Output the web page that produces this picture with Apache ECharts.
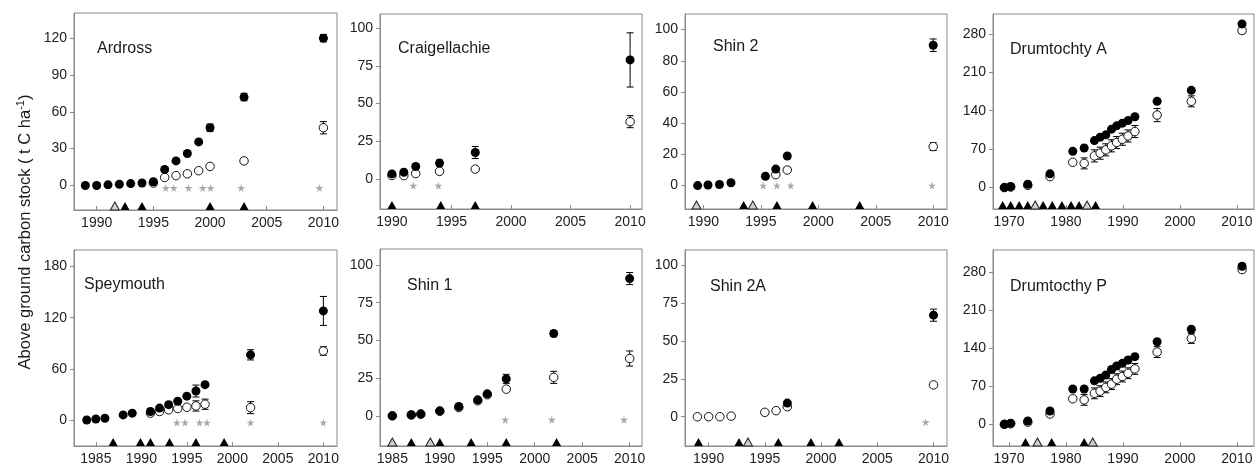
<!DOCTYPE html>
<html><head><meta charset="utf-8">
<script src="https://cdn.jsdelivr.net/npm/echarts@6/dist/echarts.min.js"></script>
<style>html,body{margin:0;padding:0;background:#fff}#c{width:1258px;height:467px}</style>
</head><body><div id="c"></div>
<script>
// ---------- tick labels ----------
const ticksX1990 = [1990, 1995, 2000, 2005, 2010];
const ticksX1985 = [1985, 1990, 1995, 2000, 2005, 2010];
const ticksX1970 = [1970, 1980, 1990, 2000, 2010];
const ticksY30 = [0, 30, 60, 90, 120];
const ticksY25 = [0, 25, 50, 75, 100];
const ticksY20 = [0, 20, 40, 60, 80, 100];
const ticksY70 = [0, 70, 140, 210, 280];
const ticksY60 = [0, 60, 120, 180];
const yAxisTitle = 'Above ground carbon stock ( t C ha';
const yAxisTitleSup = '-1';

// ---------- data: [year, value, error] ----------
const ardrossFilled = [[1989,0],[1990,0],[1991,0.5],[1992,1],[1993,1.5],[1994,2],[1995,3],[1996,13],[1997,20],[1998,26],[1999,35.5],[2000,47,3],[2003,72,3],[2010,120,3]];
const ardrossOpen = [[1995,2],[1996,6.5],[1997,8],[1998,9.5],[1999,12],[2000,15.5],[2003,20,2],[2010,47,5]];
const ardrossStars = [[1996.1,-2],[1996.8,-2],[1998.1,-2],[1999.35,-2],[2000.05,-2],[2002.75,-2],[2009.65,-2]];
const ardrossTriFilled = [1992.5, 1994, 2000, 2003];
const ardrossTriOpen = [1991.6];

const craigFilled = [[1990,3.3],[1991,4.4],[1992,8.2],[1994,10.5,2],[1997,17.5,4],[2010,79,18]];
const craigOpen = [[1990,2.2],[1991,2.2],[1992,3.5],[1994,5],[1997,6.5],[2010,38,4]];
const craigStars = [[1991.8,-4.5],[1993.9,-4.5]];
const craigTriFilled = [1990, 1994.1, 1997];
const craigTriOpen = [];

const shin2Filled = [[1989.5,0],[1990.4,0.4],[1991.4,0.7],[1992.4,1.8],[1995.4,6],[1996.3,10.6],[1997.3,19],[2010,90,4]];
const shin2Open = [[1996.3,7],[1997.3,10],[2010,25,2.5]];
const shin2Stars = [[1995.2,0],[1996.4,0],[1997.6,0],[2009.9,0]];
const shin2TriFilled = [1993.5, 1996.4, 1999.5, 2003.6];
const shin2TriOpen = [1989.4, 1994.3];

const drumAFilled = [[1969.2,0],[1970.3,2],[1973.3,6],[1977.2,25,3],[1981.2,66],[1983.2,72],[1985,85.6],[1986,91.8],[1987,96],[1988,106.4],[1988.9,112.4],[1989.9,117.3],[1990.9,122],[1992.1,129],[1996,157,3],[2002,177,3],[2010.9,298]];
const drumAOpen = [[1969.2,0],[1970.3,1],[1973.3,4],[1977.2,20,2],[1981.2,46,3],[1983.2,44,10],[1985,57.7,11],[1986,62.6,11],[1987,68.7,11],[1988,76,11],[1988.9,82,11],[1989.9,88,11],[1990.9,94,11],[1992.1,102,11],[1996,132,12],[2002,157,10],[2010.9,286,5]];
const drumAStars = [];
const drumATriFilled = [1968.9, 1970.3, 1971.8, 1973.3, 1976.0, 1977.6, 1979.3, 1980.9, 1982.3, 1985.2];
const drumATriOpen = [1974.6, 1983.7];

const speyFilled = [[1984,0],[1985,1.2],[1986,2],[1988,6],[1989,8],[1991,10],[1992,14],[1993,18],[1994,22],[1995,28],[1996,34,7],[1997,41.5],[2002,76.5,6],[2010,128,17]];
const speyOpen = [[1991,8],[1992,10],[1993,12],[1994,13.5],[1995,15],[1996,16.5,6],[1997,18.5,6],[2002,14.5,7],[2010,81,5]];
const speyStars = [[1993.9,-3],[1994.8,-3],[1996.4,-3],[1997.2,-3],[2002,-3],[2010,-3]];
const speyTriFilled = [1986.9, 1989.9, 1991, 1993.1, 1996, 1999.1];
const speyTriOpen = [];

const shin1Filled = [[1985,0],[1987,0.7],[1988,1.3],[1990,3.3],[1992,6.2],[1994,10.6],[1995,14.6],[1997,24.5,3],[2002,54.5,2],[2010,91,4]];
const shin1Open = [[1985,0],[1987,0.5],[1988,1],[1990,3],[1992,5.5],[1994,10],[1995,14],[1997,17.7],[2002,25.5,4],[2010,38,5]];
const shin1Stars = [[1996.9,-2.6],[2001.8,-2.6],[2009.4,-2.6]];
const shin1TriFilled = [1987, 1990, 1993.3, 1997, 2002.3];
const shin1TriOpen = [1985, 1989];

const shin2AFilled = [[1997,9],[2010,67,4]];
const shin2AOpen = [[1989,0],[1990,0],[1991,0],[1992,0.4],[1995,2.9],[1996,4],[1997,6.6],[2010,21]];
const shin2AStars = [[2009.3,-3.6]];
const shin2ATriFilled = [1989.1, 1992.7, 1996.2, 1999.1, 2001.6];
const shin2ATriOpen = [1993.5];

const drumPFilled = [[1969.2,0],[1970.3,2],[1973.3,6],[1977.2,24.5],[1981.2,65],[1983.2,65],[1985,80],[1986,84.6],[1987,90.8],[1988,101],[1988.9,107.4],[1989.9,112.3],[1990.9,118.4],[1992.1,124.5],[1996,152],[2002,175],[2010.9,291,5]];
const drumPOpen = [[1969.2,0],[1970.3,1],[1973.3,4],[1977.2,19,2],[1981.2,47,3],[1983.2,45,10],[1985,57,10],[1986,61,10],[1987,68,10],[1988,74,10],[1988.9,83,10],[1989.9,88,10],[1990.9,94,10],[1992.1,102,10],[1996,133,10],[2002,158,9],[2010.9,285,4]];
const drumPStars = [];
const drumPTriFilled = [1972.9, 1977.5, 1983.2];
const drumPTriOpen = [1975, 1984.7];

const panelNames = ['Ardross','Craigellachie','Shin 2','Drumtochty A','Speymouth','Shin 1','Shin 2A','Drumtocthy P'];

// ---------- panel assembly ----------
const panels = [
  {filled: ardrossFilled, open: ardrossOpen, stars: ardrossStars, triF: ardrossTriFilled, triO: ardrossTriOpen, xt: ticksX1990, yt: ticksY30},
  {filled: craigFilled, open: craigOpen, stars: craigStars, triF: craigTriFilled, triO: craigTriOpen, xt: ticksX1990, yt: ticksY25},
  {filled: shin2Filled, open: shin2Open, stars: shin2Stars, triF: shin2TriFilled, triO: shin2TriOpen, xt: ticksX1990, yt: ticksY20},
  {filled: drumAFilled, open: drumAOpen, stars: drumAStars, triF: drumATriFilled, triO: drumATriOpen, xt: ticksX1970, yt: ticksY70},
  {filled: speyFilled, open: speyOpen, stars: speyStars, triF: speyTriFilled, triO: speyTriOpen, xt: ticksX1985, yt: ticksY60},
  {filled: shin1Filled, open: shin1Open, stars: shin1Stars, triF: shin1TriFilled, triO: shin1TriOpen, xt: ticksX1985, yt: ticksY25},
  {filled: shin2AFilled, open: shin2AOpen, stars: shin2AStars, triF: shin2ATriFilled, triO: shin2ATriOpen, xt: ticksX1990, yt: ticksY25},
  {filled: drumPFilled, open: drumPOpen, stars: drumPStars, triF: drumPTriFilled, triO: drumPTriOpen, xt: ticksX1970, yt: ticksY70}
];

const layout = [
  {left:74,  top:13,  w:263, h:197, x:[1988,2011.2],   y:[-20,140.5],   tl:[97,41]},
  {left:380, top:14,  w:262, h:195, x:[1989,2011],     y:[-20,109.5],   tl:[398,41]},
  {left:685, top:14,  w:262, h:195, x:[1988.4,2011.2], y:[-15,110],     tl:[713,39]},
  {left:993, top:14,  w:261, h:195, x:[1967.2,2013],   y:[-39,316],     tl:[1010,42]},
  {left:74,  top:250, w:263, h:196, x:[1982.6,2011.5], y:[-30.5,199.5], tl:[84,277]},
  {left:380, top:249, w:262, h:197, x:[1983.7,2011.3], y:[-20,110.6],   tl:[407,278]},
  {left:685, top:250, w:262, h:196, x:[1987.9,2011.2], y:[-19.3,110],   tl:[710,279]},
  {left:993, top:250, w:261, h:196, x:[1967.2,2013],   y:[-40,321],     tl:[1010,279]}
];

const FONT = '"Liberation Sans", Arial, sans-serif';
const FRAME = '#8a8a8a';
const STAR = 'path://M50,0 L61,35 L98,35 L68,57 L79,91 L50,70 L21,91 L32,57 L2,35 L39,35 Z';

function errSeries(data, gi, z) {
  return {
    type: 'custom', xAxisIndex: gi, yAxisIndex: gi, z: z, silent: true,
    data: data.filter(d => d[2]).map(d => [d[0], d[1], d[2]]),
    encode: {x: 0, y: 1},
    renderItem: (params, api) => {
      const x = api.value(0), y = api.value(1), e = api.value(2);
      const lo = api.coord([x, y - e]), hi = api.coord([x, y + e]);
      const w = 3.5, st = {stroke: '#000', lineWidth: 1};
      return {type: 'group', children: [
        {type: 'line', shape: {x1: lo[0], y1: lo[1], x2: hi[0], y2: hi[1]}, style: st},
        {type: 'line', shape: {x1: lo[0]-w, y1: lo[1], x2: lo[0]+w, y2: lo[1]}, style: st},
        {type: 'line', shape: {x1: hi[0]-w, y1: hi[1], x2: hi[0]+w, y2: hi[1]}, style: st}
      ]};
    }
  };
}

const grids = [], xAxes = [], yAxes = [], series = [], titles = [];
panels.forEach((p, i) => {
  const L = layout[i];
  grids.push({left: L.left, top: L.top, width: L.w, height: L.h, show: true, borderColor: FRAME, borderWidth: 1, backgroundColor: 'transparent'});
  xAxes.push({
    gridIndex: i, type: 'value', min: L.x[0], max: L.x[1],
    axisLine: {onZero: false, lineStyle: {color: FRAME}},
    axisTick: {inside: true, length: 4, customValues: p.xt, lineStyle: {color: FRAME}},
    axisLabel: {customValues: p.xt, formatter: v => String(v), color: '#222', fontSize: 14, margin: 6, fontFamily: FONT},
    splitLine: {show: false}
  });
  yAxes.push({
    gridIndex: i, type: 'value', min: L.y[0], max: L.y[1],
    axisLine: {onZero: false, lineStyle: {color: FRAME}},
    axisTick: {inside: false, length: 4, customValues: p.yt, lineStyle: {color: FRAME}},
    axisLabel: {customValues: p.yt, formatter: v => String(v), color: '#222', fontSize: 14, margin: 7, fontFamily: FONT},
    splitLine: {show: false}
  });
  titles.push({text: panelNames[i], left: L.tl[0], top: L.tl[1], padding: 0,
    textStyle: {fontSize: 16, fontWeight: 'normal', color: '#1a1a1a', fontFamily: FONT}});

  series.push(errSeries(p.open, i, 2));
  series.push({type: 'scatter', xAxisIndex: i, yAxisIndex: i, z: 3, silent: true,
    data: p.open.map(d => [d[0], d[1]]), symbol: 'circle', symbolSize: 8.5,
    itemStyle: {color: '#fff', borderColor: '#111', borderWidth: 1, opacity: 1}});
  series.push(errSeries(p.filled, i, 4));
  series.push({type: 'scatter', xAxisIndex: i, yAxisIndex: i, z: 5, silent: true,
    data: p.filled.map(d => [d[0], d[1]]), symbol: 'circle', symbolSize: 9,
    itemStyle: {color: '#000', opacity: 1}});
  series.push({type: 'scatter', xAxisIndex: i, yAxisIndex: i, z: 3, silent: true,
    data: p.stars, symbol: STAR, symbolSize: 8,
    itemStyle: {color: '#a8a8a8', opacity: 1}});
  series.push({type: 'scatter', xAxisIndex: i, yAxisIndex: i, z: 6, silent: true, clip: false,
    data: p.triF.map(x => [x, L.y[0]]), symbol: 'triangle', symbolSize: [9, 8], symbolOffset: [0, -4],
    itemStyle: {color: '#000', opacity: 1}});
  series.push({type: 'scatter', xAxisIndex: i, yAxisIndex: i, z: 6, silent: true, clip: false,
    data: p.triO.map(x => [x, L.y[0]]), symbol: 'triangle', symbolSize: [9, 8], symbolOffset: [0, -4],
    itemStyle: {color: '#d0d0d0', borderColor: '#222', borderWidth: 1, opacity: 1}});
});

const chart = echarts.init(document.getElementById('c'), null, {renderer: 'canvas'});
chart.setOption({
  backgroundColor: '#fff',
  animation: false,
  title: titles,
  grid: grids,
  xAxis: xAxes,
  yAxis: yAxes,
  series: series,
  graphic: [{
    type: 'text', x: 25, y: 232, rotation: Math.PI / 2,
    style: {
      text: '{a|' + yAxisTitle + '}{s|' + yAxisTitleSup + '}{a|)}',
      textAlign: 'center', textVerticalAlign: 'middle',
      rich: {
        a: {fontSize: 16.5, fontFamily: FONT, fill: '#1a1a1a', lineHeight: 20},
        s: {fontSize: 11, fontFamily: FONT, fill: '#1a1a1a', verticalAlign: 'top', lineHeight: 20}
      }
    }
  }]
});
</script>
</body></html>
